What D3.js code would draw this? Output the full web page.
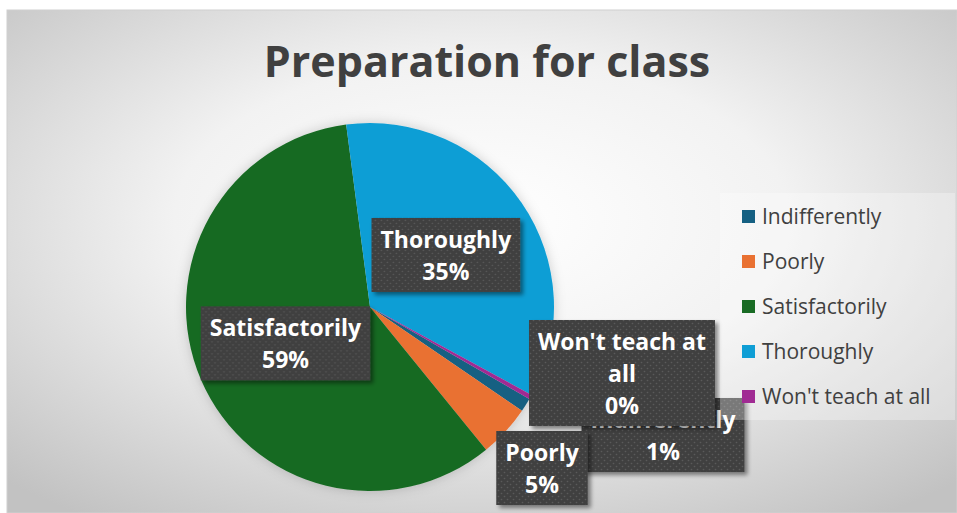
<!DOCTYPE html>
<html>
<head>
<meta charset="utf-8">
<script src="https://cdn.jsdelivr.net/npm/d3@7"></script>
<style>
  body { margin: 0; background: #fff; }
  svg { display: block; }
</style>
</head>
<body>
<div id="chart"></div>
<script>
// chart values (percent of responses)
const categories = ["Indifferently", "Poorly", "Satisfactorily", "Thoroughly", "Won't teach at all"];
const shares = [1.2, 4.6, 58.8, 35.0, 0.4];
const sliceColors = ["#156082", "#E97132", "#196B24", "#0F9ED5", "#A02B93"];
const titleText = "Preparation for class";

const W = 957, H = 513;
const cx = 370, cy = 307, radius = 184;
const startDeg = 120;

// how excel wrapped each data label
const labelLines = {
  "Won't teach at all": ["Won't teach at", "all"]
};
// small slices get pushed outside the pie, offsets from pie centre
const labelOffset = {
  "Indifferently": [293, 128],
  "Poorly": [172, 161],
  "Won't teach at all": [252, 66]
};
const labelOrder = ["Satisfactorily", "Thoroughly", "Indifferently", "Poorly", "Won't teach at all"];

const svg = d3.select("#chart").append("svg")
  .attr("width", W)
  .attr("height", H);

const defs = svg.append("defs");

const bg = defs.append("radialGradient")
  .attr("id", "bgGrad")
  .attr("cx", "50%").attr("cy", "42%").attr("r", "72%");
bg.append("stop").attr("offset", "0%").attr("stop-color", "#ffffff");
bg.append("stop").attr("offset", "45%").attr("stop-color", "#f2f2f2");
bg.append("stop").attr("offset", "100%").attr("stop-color", "#c2c2c2");

const dots = defs.append("pattern")
  .attr("id", "dots")
  .attr("width", 6).attr("height", 6)
  .attr("patternUnits", "userSpaceOnUse");
dots.append("rect").attr("width", 6).attr("height", 6).attr("fill", "#404040");
dots.append("circle").attr("cx", 1.5).attr("cy", 1.5).attr("r", 0.8).attr("fill", "#5a5a5a");
dots.append("circle").attr("cx", 4.5).attr("cy", 4.5).attr("r", 0.8).attr("fill", "#5a5a5a");

const shadow = defs.append("filter")
  .attr("id", "shadow")
  .attr("x", "-20%").attr("y", "-20%").attr("width", "150%").attr("height", "150%");
shadow.append("feDropShadow")
  .attr("dx", 3).attr("dy", 3).attr("stdDeviation", 2)
  .attr("flood-color", "#000").attr("flood-opacity", 0.45);

const pieGlow = defs.append("filter")
  .attr("id", "pieGlow")
  .attr("x", "-20%").attr("y", "-20%").attr("width", "140%").attr("height", "140%");
pieGlow.append("feDropShadow")
  .attr("dx", 0).attr("dy", 0).attr("stdDeviation", 6)
  .attr("flood-color", "#000").attr("flood-opacity", 0.18);

// chart area
svg.append("rect")
  .attr("x", 7).attr("y", 10)
  .attr("width", W - 7).attr("height", H - 10)
  .attr("fill", "url(#bgGrad)")
  .attr("stroke", "#d0d0d0")
  .attr("stroke-width", 1);

svg.append("text")
  .attr("x", 487).attr("y", 77)
  .attr("text-anchor", "middle")
  .style("font-family", "'Open Sans', sans-serif")
  .style("font-weight", 700)
  .style("font-size", "43px")
  .attr("fill", "#404040")
  .text(titleText);

const data = categories.map((c, i) => ({ name: c, value: shares[i], color: sliceColors[i] }));
const total = d3.sum(shares);

const pie = d3.pie()
  .sort(null)
  .value(d => d.value)
  .startAngle(startDeg * Math.PI / 180)
  .endAngle((startDeg + 360) * Math.PI / 180);

const arc = d3.arc().innerRadius(0).outerRadius(radius);
const arcs = pie(data);

const g = svg.append("g").attr("transform", "translate(" + cx + "," + cy + ")");

g.append("g")
  .attr("filter", "url(#pieGlow)")
  .selectAll("path")
  .data(arcs)
  .join("path")
  .attr("d", arc)
  .attr("fill", d => d.data.color);

// data labels
const byName = {};
arcs.forEach(a => byName[a.data.name] = a);

const lineH = 32, padX = 9, padY = 5;
labelOrder.forEach(name => {
  const a = byName[name];
  const pct = d3.format(".0f")(a.data.value / total * 100) + "%";
  const lines = (labelLines[name] || [name]).concat([pct]);
  const pos = labelOffset[name] || arc.centroid(a);

  const lg = g.append("g").attr("transform", "translate(" + pos[0] + "," + pos[1] + ")");
  const box = lg.append("rect")
    .attr("fill", "url(#dots)")
    .attr("filter", "url(#shadow)");
  const txt = lg.append("text")
    .attr("text-anchor", "middle")
    .style("font-family", "'Open Sans', sans-serif")
    .style("font-weight", 700)
    .style("font-size", "23px")
    .attr("fill", "#ffffff");
  const h = lines.length * lineH + 2 * padY;
  lines.forEach((l, i) => {
    txt.append("tspan")
      .attr("x", 0)
      .attr("y", -h / 2 + padY + i * lineH + 25)
      .text(l);
  });
  const w = d3.max(txt.selectAll("tspan").nodes(), n => n.getComputedTextLength()) + 2 * padX;
  box.attr("x", -w / 2).attr("y", -h / 2).attr("width", w).attr("height", h);
});

// legend
const legX = 742, legY = 216, legStep = 45;
svg.append("rect")
  .attr("x", 720).attr("y", 193)
  .attr("width", 235).attr("height", 227)
  .attr("fill", "#ffffff")
  .attr("opacity", 0.3);

const leg = svg.append("g")
  .selectAll("g")
  .data(data)
  .join("g")
  .attr("transform", (d, i) => "translate(" + legX + "," + (legY + i * legStep) + ")");
leg.append("rect")
  .attr("x", 0).attr("y", -6)
  .attr("width", 13).attr("height", 13)
  .attr("fill", d => d.color);
leg.append("text")
  .attr("x", 20).attr("y", 7.5)
  .style("font-family", "'Open Sans', sans-serif")
  .style("font-size", "21px")
  .attr("fill", "#404040")
  .text(d => d.name);
</script>
</body>
</html>
